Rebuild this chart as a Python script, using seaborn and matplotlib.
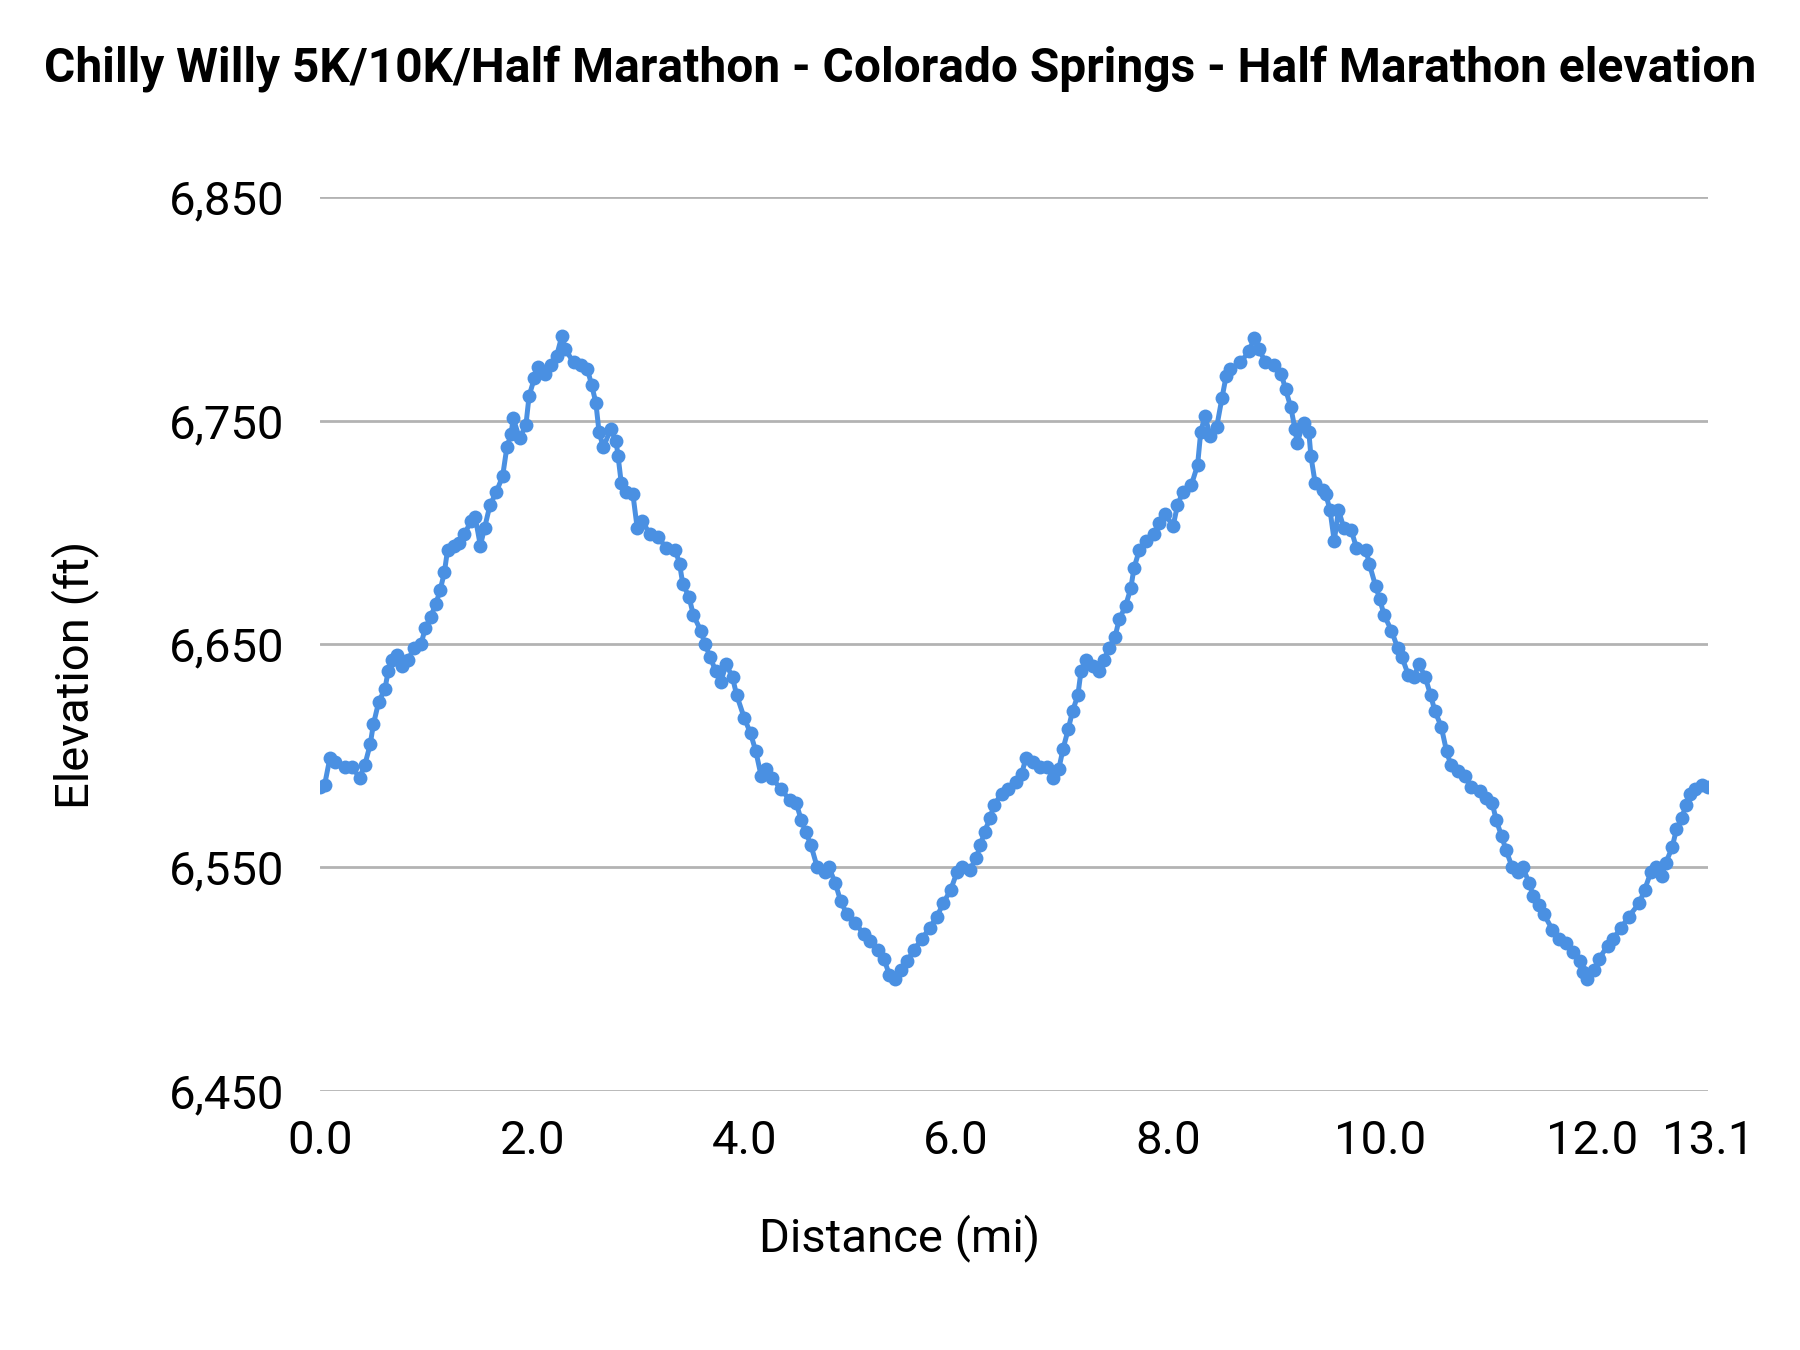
import matplotlib
matplotlib.use("Agg")
import matplotlib.pyplot as plt
import seaborn as sns
import pandas as pd

distance_mi = [
    0.00, 0.04, 0.09, 0.14, 0.23, 0.30, 0.37, 0.42, 0.47, 0.50, 0.55, 0.61, 0.64, 0.68, 0.72, 0.77,
    0.83, 0.88, 0.95, 0.99, 1.04, 1.09, 1.13, 1.17, 1.20, 1.26, 1.31, 1.36, 1.42, 1.46, 1.51, 1.55,
    1.60, 1.66, 1.72, 1.76, 1.80, 1.82, 1.88, 1.94, 1.97, 2.02, 2.05, 2.12, 2.18, 2.23, 2.28, 2.31,
    2.39, 2.46, 2.52, 2.56, 2.60, 2.63, 2.67, 2.74, 2.79, 2.81, 2.84, 2.88, 2.95, 2.99, 3.04, 3.11,
    3.19, 3.26, 3.35, 3.39, 3.42, 3.48, 3.52, 3.59, 3.63, 3.68, 3.73, 3.78, 3.83, 3.89, 3.93, 4.00,
    4.06, 4.11, 4.16, 4.21, 4.26, 4.35, 4.43, 4.49, 4.54, 4.58, 4.63, 4.69, 4.76, 4.80, 4.86, 4.91,
    4.97, 5.05, 5.13, 5.19, 5.26, 5.32, 5.37, 5.42, 5.48, 5.54, 5.60, 5.68, 5.75, 5.82, 5.88, 5.95,
    6.01, 6.06, 6.13, 6.19, 6.23, 6.27, 6.32, 6.36, 6.43, 6.49, 6.57, 6.62, 6.66, 6.73, 6.79, 6.86,
    6.92, 6.97, 7.01, 7.06, 7.10, 7.15, 7.18, 7.23, 7.29, 7.35, 7.40, 7.44, 7.50, 7.54, 7.60, 7.65,
    7.68, 7.73, 7.79, 7.87, 7.92, 7.97, 8.05, 8.09, 8.14, 8.22, 8.28, 8.31, 8.35, 8.40, 8.46, 8.51,
    8.55, 8.59, 8.68, 8.77, 8.81, 8.86, 8.92, 9.00, 9.07, 9.11, 9.16, 9.20, 9.22, 9.28, 9.33, 9.35,
    9.39, 9.46, 9.49, 9.53, 9.57, 9.61, 9.66, 9.73, 9.78, 9.87, 9.90, 9.96, 10.00, 10.04, 10.11, 10.17,
    10.21, 10.27, 10.32, 10.37, 10.43, 10.48, 10.52, 10.58, 10.63, 10.67, 10.74, 10.80, 10.86, 10.95,
    11.00, 11.06, 11.10, 11.15, 11.19, 11.25, 11.30, 11.35, 11.41, 11.45, 11.50, 11.55, 11.63, 11.69,
    11.76, 11.82, 11.89, 11.92, 11.96, 12.02, 12.07, 12.15, 12.20, 12.28, 12.35, 12.45, 12.50, 12.56,
    12.61, 12.66, 12.70, 12.76, 12.80, 12.85, 12.89, 12.93, 12.98, 13.04, 13.10,
]

elevation_ft = [
    6586, 6587, 6599, 6597, 6595, 6595, 6590, 6596, 6605, 6614, 6624, 6630, 6638, 6643, 6645, 6640,
    6643, 6648, 6650, 6657, 6662, 6668, 6674, 6682, 6692, 6694, 6695, 6699, 6705, 6707, 6694, 6702,
    6712, 6718, 6725, 6738, 6744, 6751, 6742, 6748, 6761, 6769, 6774, 6771, 6775, 6779, 6788, 6782,
    6776, 6775, 6773, 6766, 6758, 6745, 6738, 6746, 6741, 6734, 6722, 6718, 6717, 6702, 6705, 6699,
    6698, 6693, 6692, 6686, 6677, 6671, 6663, 6656, 6650, 6644, 6638, 6633, 6641, 6635, 6627, 6617,
    6610, 6602, 6591, 6594, 6590, 6585, 6580, 6579, 6571, 6566, 6560, 6550, 6548, 6550, 6543, 6535,
    6529, 6525, 6520, 6517, 6513, 6509, 6502, 6500, 6504, 6508, 6513, 6518, 6523, 6528, 6534, 6540,
    6548, 6550, 6549, 6554, 6560, 6566, 6572, 6578, 6583, 6585, 6588, 6592, 6599, 6597, 6595, 6595,
    6590, 6594, 6603, 6612, 6620, 6627, 6638, 6643, 6640, 6638, 6643, 6648, 6653, 6661, 6667, 6675,
    6684, 6692, 6696, 6699, 6704, 6708, 6703, 6712, 6718, 6721, 6730, 6745, 6752, 6743, 6747, 6760,
    6770, 6773, 6776, 6781, 6787, 6782, 6776, 6775, 6771, 6764, 6756, 6746, 6740, 6749, 6745, 6734,
    6722, 6719, 6717, 6710, 6696, 6710, 6702, 6701, 6693, 6692, 6686, 6676, 6670, 6663, 6656, 6648,
    6644, 6636, 6635, 6641, 6635, 6627, 6620, 6613, 6602, 6596, 6593, 6591, 6586, 6584,
    6581, 6579, 6571, 6564, 6558, 6550, 6548, 6550, 6543, 6537, 6533, 6529, 6522, 6518,
    6516, 6512, 6508, 6503, 6500, 6504, 6509, 6515, 6518, 6523, 6528, 6534, 6540, 6548,
    6550, 6546, 6552, 6559, 6567, 6572, 6578, 6583, 6585, 6587, 6586,
]

x_ticks = [0.0, 2.0, 4.0, 6.0, 8.0, 10.0, 12.0, 13.1]
x_tick_labels = ["0.0", "2.0", "4.0", "6.0", "8.0", "10.0", "12.0", "13.1"]
y_ticks = [6450, 6550, 6650, 6750, 6850]
y_tick_labels = ["6,450", "6,550", "6,650", "6,750", "6,850"]

title = "Chilly Willy 5K/10K/Half Marathon - Colorado Springs - Half Marathon elevation"
x_label = "Distance (mi)"
y_label = "Elevation (ft)"

sns.set_style("white")
plt.rcParams["font.family"] = ["Roboto", "DejaVu Sans"]
plt.rcParams["text.color"] = "black"
plt.rcParams["axes.labelcolor"] = "black"

df = pd.DataFrame({"distance": distance_mi, "elevation": elevation_ft})

fig = plt.figure(figsize=(18, 13.5), dpi=100)
ax_rect = [0.178, 0.192, 0.771, 0.662]
ax = fig.add_axes(ax_rect)

line_color = "#4a90e2"
sns.lineplot(data=df, x="distance", y="elevation", ax=ax, color=line_color,
             linewidth=3.6, marker="o", markersize=10, markeredgewidth=0,
             markerfacecolor=line_color)

ax.set_xlim(0, 13.1)
ax.set_ylim(6450, 6850)
ax.set_xticks(x_ticks)
ax.set_xticklabels(x_tick_labels)
ax.set_yticks(y_ticks)
ax.set_yticklabels(y_tick_labels)

ax.grid(axis="y", color="#b3b3b3", linewidth=2)
ax.grid(axis="x", visible=False)
ax.set_axisbelow(True)
for s in ["left", "right", "top", "bottom"]:
    ax.spines[s].set_visible(False)

ax.tick_params(axis="both", length=0, labelsize=34, colors="#000000")
ax.tick_params(axis="y", pad=26)
ax.tick_params(axis="x", pad=20)

# axis labels centred on the figure (as in the reference)
ax.set_xlabel(x_label, fontsize=34, va="center", ha="center")
ax.xaxis.set_label_coords((0.5 - ax_rect[0]) / ax_rect[2],
                          ((1 - 1237.6 / 1350) - ax_rect[1]) / ax_rect[3])
ax.set_ylabel(y_label, fontsize=34, va="center", ha="center")
ax.yaxis.set_label_coords((74.6 / 1800 - ax_rect[0]) / ax_rect[2],
                          (0.5 - ax_rect[1]) / ax_rect[3])

fig.suptitle(title, fontsize=34.5, fontweight="bold", y=0.966)

fig.savefig("out.png", dpi=100, facecolor="white")
